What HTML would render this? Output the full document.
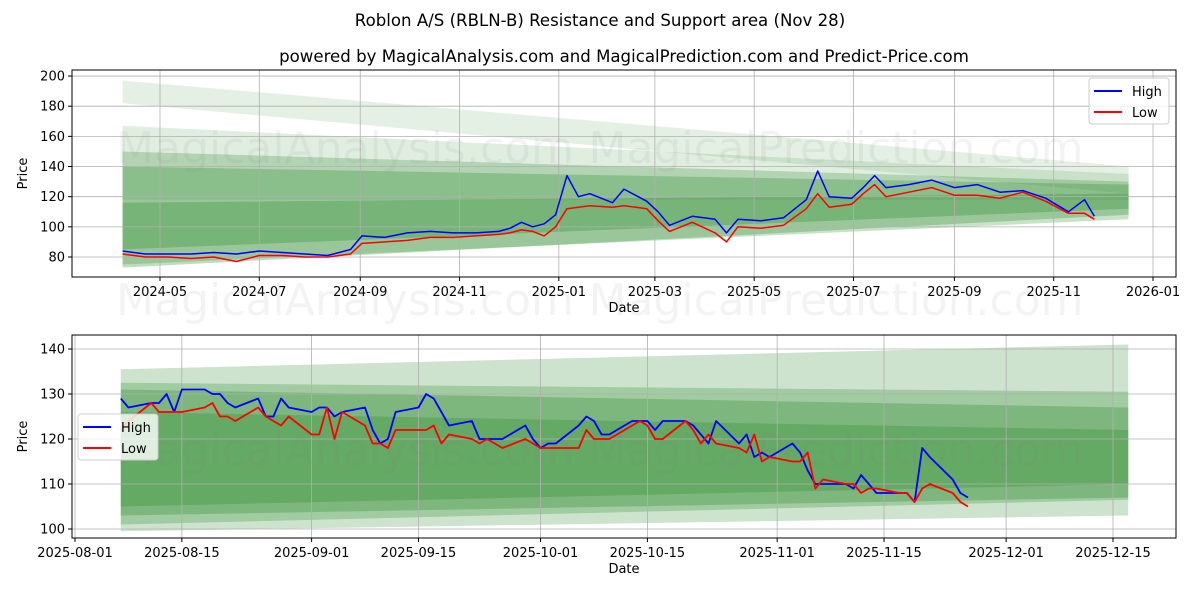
<!DOCTYPE html>
<html><head><meta charset="utf-8"><style>
body{margin:0;background:#fff}
svg{display:block;font-family:"DejaVu Sans","Liberation Sans",sans-serif}
</style></head><body>
<svg id="c" width="1200" height="600" viewBox="0 0 1200 600">
<text x="600" y="26" text-anchor="middle" font-size="16.6">Roblon A/S (RBLN-B) Resistance and Support area (Nov 28)</text>
<text x="624" y="62" text-anchor="middle" font-size="16.6">powered by MagicalAnalysis.com and MagicalPrediction.com and Predict-Price.com</text>
</svg>
<script>
// ---- Top chart data ----
const topDates=["2024-04-08","2024-04-22","2024-05-06","2024-05-20","2024-06-03","2024-06-17","2024-07-01","2024-07-15","2024-07-29","2024-08-12","2024-08-26","2024-09-02","2024-09-16","2024-09-30","2024-10-14","2024-10-28","2024-11-11","2024-11-25","2024-12-02","2024-12-09","2024-12-16","2024-12-23","2024-12-30","2025-01-06","2025-01-13","2025-01-20","2025-02-03","2025-02-10","2025-02-24","2025-03-03","2025-03-10","2025-03-24","2025-04-07","2025-04-14","2025-04-21","2025-05-05","2025-05-19","2025-06-02","2025-06-09","2025-06-16","2025-06-30","2025-07-07","2025-07-14","2025-07-21","2025-08-04","2025-08-18","2025-09-01","2025-09-15","2025-09-29","2025-10-13","2025-10-27","2025-11-10","2025-11-20","2025-11-26"];
const topHigh=[84,82,82,82,83,82,84,83,82,81,85,94,93,96,97,96,96,97,99,103,100,102,108,134,120,122,116,125,117,110,101,107,105,96,105,104,106,118,137,120,119,126,134,126,128,131,126,128,123,124,119,110,118,107];
const topLow=[82,80,80,79,80,77,81,81,80,80,82,89,90,91,93,93,94,95,96,98,97,94,100,112,113,114,113,114,112,104,97,103,96,90,100,99,101,112,122,113,115,122,128,120,123,126,121,121,119,123,117,109,109,105];
const topYTicks=[80,100,120,140,160,180,200];
const topXTicks=["2024-05","2024-07","2024-09","2024-11","2025-01","2025-03","2025-05","2025-07","2025-09","2025-11","2026-01"];
const topBandStart=["2024-04-08"]; const topBandEnd=["2025-12-17"];
const topBandLo0=[182,118,75,73,85]; const topBandHi0=[197,167,150,140,116];
const topBandLo1=[122,118,105,108,112]; const topBandHi1=[140,135,130,128,122];
// ---- Bottom chart data ----
const botDates=["2025-08-07","2025-08-08","2025-08-11","2025-08-12","2025-08-13","2025-08-14","2025-08-15","2025-08-18","2025-08-19","2025-08-20","2025-08-21","2025-08-22","2025-08-25","2025-08-26","2025-08-27","2025-08-28","2025-08-29",
"2025-09-01","2025-09-02","2025-09-03","2025-09-04","2025-09-05","2025-09-08","2025-09-09","2025-09-10","2025-09-11","2025-09-12","2025-09-15","2025-09-16","2025-09-17","2025-09-18","2025-09-19","2025-09-22","2025-09-23","2025-09-24","2025-09-25","2025-09-26","2025-09-29","2025-09-30",
"2025-10-01","2025-10-02","2025-10-03","2025-10-06","2025-10-07","2025-10-08","2025-10-09","2025-10-10","2025-10-13","2025-10-14","2025-10-15","2025-10-16","2025-10-17","2025-10-20","2025-10-21","2025-10-22","2025-10-23","2025-10-24","2025-10-27","2025-10-28","2025-10-29","2025-10-30","2025-10-31",
"2025-11-03","2025-11-04","2025-11-05","2025-11-06","2025-11-07","2025-11-10","2025-11-11","2025-11-12","2025-11-13","2025-11-14","2025-11-17","2025-11-18","2025-11-19","2025-11-20","2025-11-21","2025-11-24","2025-11-25","2025-11-26"];
const botHigh=[129,127,128,128,130,126,131,131,130,130,128,127,129,125,125,129,127,
126,127,127,125,126,127,122,119,120,126,127,130,129,126,123,124,120,120,120,120,123,120,
118,119,119,123,125,124,121,121,124,124,124,122,124,124,123,121,119,124,119,121,116,117,116,
119,117,113,110,110,110,109,112,110,108,108,108,106,118,116,111,108,107];
const botLow=[122,124,128,126,126,126,126,127,128,125,125,124,127,125,124,123,125,
121,121,127,120,126,123,119,119,118,122,122,122,123,119,121,120,119,120,119,118,120,119,
118,118,118,118,122,120,120,120,123,124,123,120,120,124,122,119,121,119,118,117,121,115,116,
115,115,117,109,111,110,110,108,109,109,108,108,106,109,110,108,106,105];
const botYTicks=[100,110,120,130,140];
const botXTicks=["2025-08-01","2025-08-15","2025-09-01","2025-09-15","2025-10-01","2025-10-15","2025-11-01","2025-11-15","2025-12-01","2025-12-15"];
const botBandStart=["2025-08-07"]; const botBandEnd=["2025-12-17"];
const botBandLo0=[99.5,101,103,105]; const botBandHi0=[135.5,132.5,131,126];
const botBandLo1=[103,106.5,107,110]; const botBandHi1=[141,130.5,127,122];

const NS="http://www.w3.org/2000/svg";
const svg=document.getElementById('c');
function el(t,a,p){const e=document.createElementNS(NS,t);for(const k in a)e.setAttribute(k,a[k]);(p||svg).appendChild(e);return e;}
const day=s=>Date.parse(s.length===7?s+"-01":s)/864e5;

function drawPanel(o){
  const {x0,x1,y0,y1,d0,d1,v0,v1}=o;
  const X=d=>x0+(day(d)-d0)/(d1-d0)*(x1-x0);
  const Y=v=>y1-(v-v0)/(v1-v0)*(y1-y0);
  const g=el('g',{});
  
  
  for(let i=0;i<o.lo0.length;i++){
    const a=X(o.bs[0]),b=X(o.be[0]);
    const p=el('polygon',{points:`${a},${Y(o.hi0[i])} ${b},${Y(o.hi1[i])} ${b},${Y(o.lo1[i])} ${a},${Y(o.lo0[i])}`,fill:'#2e8b2e','fill-opacity':o.alpha[i]},g);
    
    
  }
  o.yt.forEach(v=>{
    const l=el('line',{x1:x0,x2:x1,y1:Y(v),y2:Y(v),stroke:'#b0b0b0','stroke-width':0.8},g);
    
    el('line',{x1:x0-4,x2:x0,y1:Y(v),y2:Y(v),stroke:'#000'},g);
    const t=el('text',{x:x0-7,y:Y(v)+4.5,'text-anchor':'end','font-size':13},g);t.textContent=v;
    
  });
  o.xt.forEach(d=>{
    const x=X(d);
    const l=el('line',{x1:x,x2:x,y1:y0,y2:y1,stroke:'#b0b0b0','stroke-width':0.8},g);
    
    el('line',{x1:x,x2:x,y1:y1,y2:y1+4,stroke:'#000'},g);
    const t=el('text',{x:x,y:y1+19,'text-anchor':'middle','font-size':13},g);t.textContent=d;
    
  });
  o.wm.forEach(w=>{const t=el('text',{x:w[0],y:w[1],'text-anchor':'middle','font-size':44,fill:'#888','fill-opacity':0.1},g);t.textContent=w[2];
    });
  [[o.hi,'#0000ff','high-line'],[o.lo,'#ff0000','low-line']].forEach(s=>{
    const pts=o.dates.map((d,i)=>X(d).toFixed(1)+','+Y(s[0][i]).toFixed(1)).join(' ');
    const p=el('polyline',{points:pts,fill:'none',stroke:s[1],'stroke-width':o.sw,'stroke-linejoin':'round'},g);
    
  });
  const f=el('rect',{x:x0,y:y0,width:x1-x0,height:y1-y0,fill:'none',stroke:'#000','stroke-width':1},g);
  
  let t=el('text',{x:(x0+x1)/2,y:y1+35,'text-anchor':'middle','font-size':13},g);t.textContent='Date';
  
  t=el('text',{x:0,y:0,'text-anchor':'middle','font-size':13,transform:`translate(27,${(y0+y1)/2}) rotate(-90)`},g);t.textContent='Price';
  
  const [lx,ly]=o.leg;
  const lg=el('g',{},g);
  
  el('rect',{x:lx,y:ly,width:80,height:46,rx:3,fill:'#fff','fill-opacity':0.8,stroke:'#ccc'},lg);
  [['High','#0000ff',ly+13],['Low','#ff0000',ly+34]].forEach(e=>{
    el('line',{x1:lx+5,x2:lx+33,y1:e[2],y2:e[2],stroke:e[1],'stroke-width':2},lg);
    const tt=el('text',{x:lx+43,y:e[2]+5,'font-size':13},lg);tt.textContent=e[0];
    
  });
}
const dA=day("2024-05-01"),dB=day("2026-01-01");
const pxA=160,pxB=1153;
const tpd=(pxB-pxA)/(dB-dA);
drawPanel({name:'top-chart',x0:72,x1:1176,y0:70,y1:277,d0:dA-(pxA-72)/tpd,d1:dA+(1176-pxA)/tpd,
  v0:80-(277-257)/1.508,v1:80+(257-70)/1.508,
  bs:topBandStart,be:topBandEnd,lo0:topBandLo0,hi0:topBandHi0,lo1:topBandLo1,hi1:topBandHi1,alpha:[0.13,0.15,0.26,0.3,0.32],
  yt:topYTicks,xt:topXTicks,dates:topDates,hi:topHigh,lo:topLow,sw:1.5,leg:[1089,78],
  wm:[[345,163,'MagicalAnalysis.com'],[836,163,'MagicalPrediction.com'],[345,315,'MagicalAnalysis.com'],[836,315,'MagicalPrediction.com']]});
const eA=day("2025-08-01"),eB=day("2025-12-15");
const bpd=(1113-75)/(eB-eA);
drawPanel({name:'bottom-chart',x0:72,x1:1176,y0:335,y1:538,d0:eA-(75-72)/bpd,d1:eA+(1176-75)/bpd,
  v0:100-(538-529)/4.5,v1:140+(349-335)/4.5,
  bs:botBandStart,be:botBandEnd,lo0:botBandLo0,hi0:botBandHi0,lo1:botBandLo1,hi1:botBandHi1,alpha:[0.24,0.28,0.3,0.32],
  yt:botYTicks,xt:botXTicks,dates:botDates,hi:botHigh,lo:botLow,sw:1.8,leg:[78,414],
  wm:[[345,465,'MagicalAnalysis.com'],[836,465,'MagicalPrediction.com']]});
</script>
</body></html>
